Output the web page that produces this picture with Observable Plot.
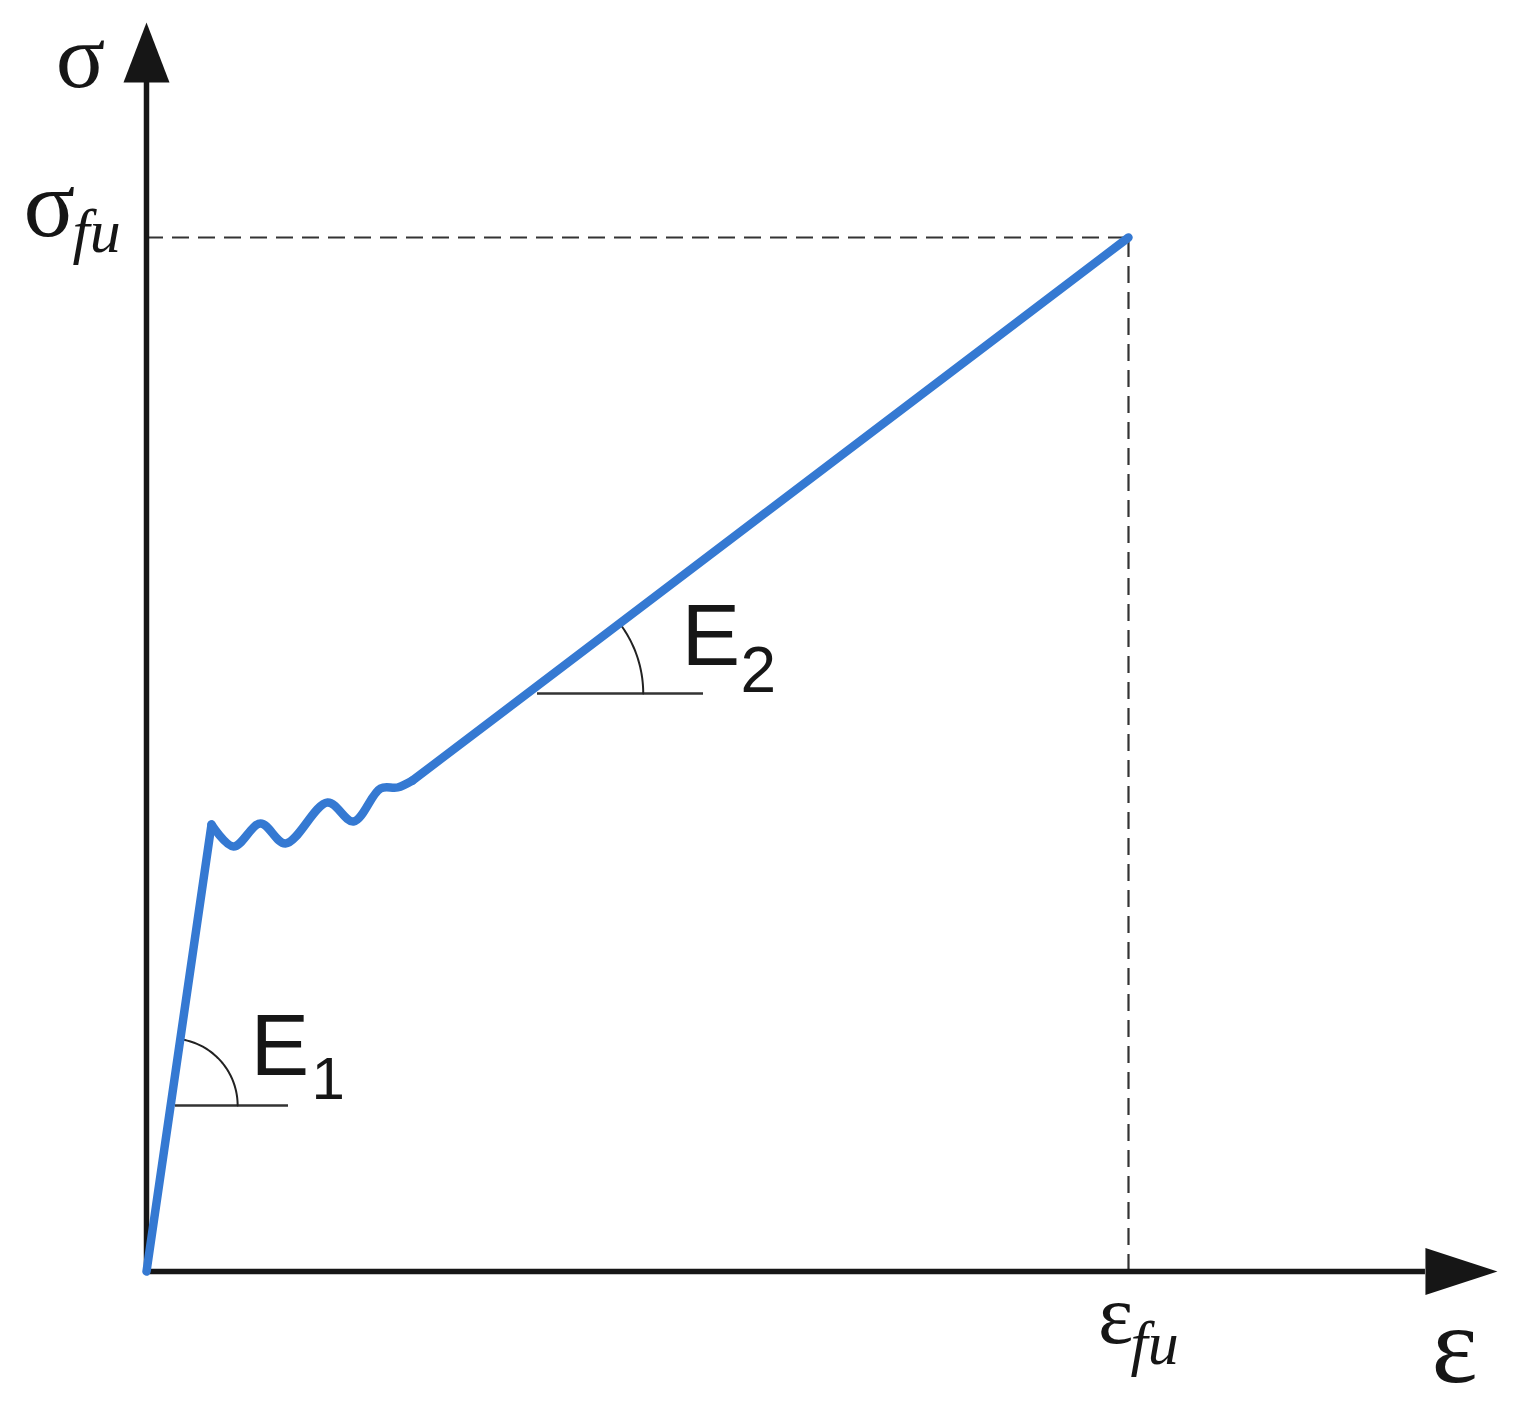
<!DOCTYPE html>
<html><head><meta charset="utf-8">
<script src="https://cdn.jsdelivr.net/npm/d3@7"></script>
<script src="https://cdn.jsdelivr.net/npm/@observablehq/plot@0.6"></script>
<style>html,body{margin:0;padding:0;background:#fff;overflow:hidden}</style>
</head><body><div id="chart"></div>
<script>
// ---- values (σ and ε normalised to σfu = εfu = 1) ----
const elasticStrain = [0, 0.06619];
const elasticStress = [0, 0.43230];
const yieldStrain = [0.06619, 0.08859, 0.11609, 0.14155, 0.18432, 0.21079, 0.23829, 0.25560, 0.27088];
const yieldStress = [0.43230, 0.41103, 0.43327, 0.41393, 0.45358, 0.43520, 0.46712, 0.46809, 0.47485];
const hardeningStrain = [0.27088, 1.0];
const hardeningStress = [0.47485, 1.0];
const ultimateStrain = 1.0;   // ε_fu
const ultimateStress = 1.0;   // σ_fu
const axisStrainMax = 1.3024; // x axis shaft end (arrow base)
const axisStressMax = 1.1499; // y axis shaft end (arrow base)
const slopeLabels = ["E", "E"];
const slopeSubs = ["1", "2"];
const slopeRefStress = [0.16054, 0.55899];      // horizontal reference lines
const slopeRefStrain1 = [0.02953, 0.39817];
const slopeRefStrain2 = [0.14460, 0.56721];
const slopeVertexStrain = [0.02458, 0.38770];

// ---- layout ----
const W = 1526, H = 1409;
const xDom = [-0.14868, 1.40530], yDom = [-0.13346, 1.22921];
const kx = W / (xDom[1] - xDom[0]), ky = H / (yDom[1] - yDom[0]);
const blue = "#3579d2", ink = "#161616";

const toRows = (xs, ys) => xs.map((x, i) => ({x, y: ys[i]}));
const elastic = toRows(elasticStrain, elasticStress);
const yieldPlateau = toRows(yieldStrain, yieldStress);
const hardening = toRows(hardeningStrain, hardeningStress);

// slope angle of a segment in screen space
const ang = (a, b) => Math.atan2((b.y - a.y) * ky, (b.x - a.x) * kx);
const angles = [ang(elastic[0], elastic[1]), ang(hardening[0], hardening[1])];
const radii = [67, 116];
const arcs = [0, 1].flatMap(i => d3.range(0, 1.0001, 0.025).map(t => ({
  k: i,
  x: slopeVertexStrain[i] + radii[i] * Math.cos(t * angles[i]) / kx,
  y: slopeRefStress[i] + radii[i] * Math.sin(t * angles[i]) / ky
})));
const refLines = [0, 1].map(i => ({x1: slopeRefStrain1[i], x2: slopeRefStrain2[i], y: slopeRefStress[i]}));

// arrow head symbols (anchor at base centre, pointing up)
const headY = {draw(c) { c.moveTo(0, -60); c.lineTo(23, 0); c.lineTo(-23, 0); c.closePath(); }};
const headX = {draw(c) { c.moveTo(0, -72); c.lineTo(23.5, 0); c.lineTo(-23.5, 0); c.closePath(); }};

const serif = "'Liberation Serif', 'Times New Roman', serif";
const sans = "'Liberation Sans', Arial, sans-serif";

const txt = (text, x, y, o) => Plot.text([{text, x, y}], {x: "x", y: "y", text: "text", lineAnchor: "bottom", fill: ink, ...o});

const chart = Plot.plot({
  width: W, height: H, margin: 0,
  x: {domain: xDom, axis: null},
  y: {domain: yDom, axis: null},
  marks: [
    // dashed guides to ultimate point
    Plot.ruleY([ultimateStress], {x1: 0, x2: ultimateStrain, stroke: "#333", strokeWidth: 2.2, strokeDasharray: "17,9"}),
    Plot.ruleX([ultimateStrain], {y1: 0, y2: ultimateStress, stroke: "#333", strokeWidth: 2.2, strokeDasharray: "17,9"}),
    // axes
    Plot.ruleX([0], {y1: 0, y2: axisStressMax, stroke: ink, strokeWidth: 5.5}),
    Plot.ruleY([0], {x1: 0, x2: axisStrainMax, stroke: ink, strokeWidth: 5.5}),
    Plot.dot([{x: 0, y: axisStressMax}], {x: "x", y: "y", symbol: headY, fill: ink, stroke: "none", r: 10}),
    Plot.dot([{x: axisStrainMax, y: 0}], {x: "x", y: "y", symbol: headX, fill: ink, stroke: "none", r: 10, rotate: 90}),
    // slope annotations
    Plot.ruleY(refLines, {x1: "x1", x2: "x2", y: "y", stroke: "#333", strokeWidth: 2.4}),
    Plot.line(arcs, {x: "x", y: "y", z: "k", stroke: "#222", strokeWidth: 2, curve: "linear"}),
    // stress-strain curve
    Plot.line(elastic, {x: "x", y: "y", stroke: blue, strokeWidth: 8.5, strokeLinecap: "round", strokeLinejoin: "round"}),
    Plot.line(yieldPlateau, {x: "x", y: "y", stroke: blue, strokeWidth: 8.5, curve: "catmull-rom", strokeLinecap: "round", strokeLinejoin: "round"}),
    Plot.line(hardening, {x: "x", y: "y", stroke: blue, strokeWidth: 8.5, strokeLinecap: "round"}),
    // labels
    txt("σ", -0.0672, 1.1460, {fontFamily: serif, fontSize: 92, textAnchor: "middle"}),
    txt("σ", -0.0988, 1.0010, {fontFamily: serif, fontSize: 96, textAnchor: "middle"}),
    txt("fu", -0.0754, 0.9855, {fontFamily: serif, fontSize: 62, fontStyle: "italic", textAnchor: "start"}),
    txt("ε", 0.9868, -0.0696, {fontFamily: serif, fontSize: 84, textAnchor: "middle"}),
    txt("fu", 1.0020, -0.0890, {fontFamily: serif, fontSize: 62, fontStyle: "italic", textAnchor: "start"}),
    txt("ε", 1.3320, -0.1064, {fontFamily: serif, fontSize: 110, textAnchor: "middle"}),
    txt(slopeLabels[0], 0.1059, 0.1896, {fontFamily: sans, fontSize: 88, textAnchor: "start"}),
    txt(slopeSubs[0], 0.1680, 0.1673, {fontFamily: sans, fontSize: 60, textAnchor: "start"}),
    txt(slopeLabels[1], 0.5448, 0.5861, {fontFamily: sans, fontSize: 88, textAnchor: "start"}),
    txt(slopeSubs[1], 0.6049, 0.5600, {fontFamily: sans, fontSize: 64, textAnchor: "start"})
  ]
});
document.getElementById("chart").appendChild(chart);
</script>
</body></html>
